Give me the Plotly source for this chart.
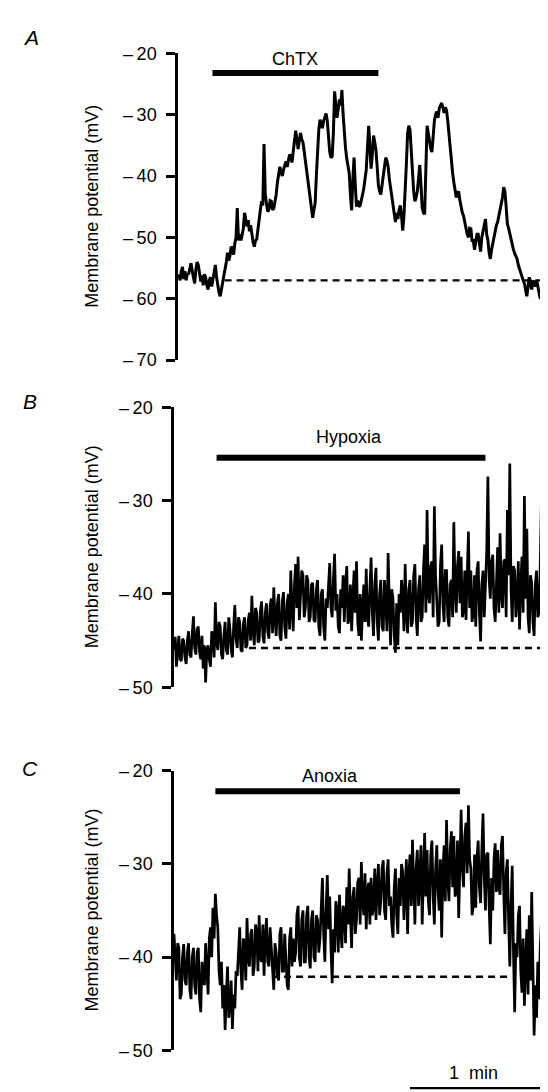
import plotly.graph_objects as go

# ---------------- data ----------------
SAMPLE_S = 0.5            # one reading every half second
A_START_S = 2.0           # first sample of trace A (s)

chtx_mv = [
    -56.0, -57.0, -55.5, -54.8, -56.8, -55.5, -57.0, -55.8, -56.0, -55.0,
    -54.2, -55.5, -56.5, -57.5, -55.2, -54.0, -54.5, -56.0, -57.2, -56.2,
    -57.8, -56.0, -56.5, -57.8, -58.5, -57.0, -56.5, -58.0, -57.0, -55.5,
    -54.5, -56.5, -58.0, -59.0, -59.6, -58.5, -57.8, -56.8, -55.5, -54.0,
    -52.5, -53.8, -53.0, -51.5, -51.8, -52.8, -51.0, -50.0, -45.2, -50.5,
    -49.5, -50.5, -49.6, -48.5, -46.0, -47.5, -48.2, -47.2, -49.0, -48.0,
    -49.8, -50.8, -51.5, -50.5, -50.3, -48.5, -46.5, -45.5, -44.1, -44.8,
    -34.8, -43.0, -44.5, -45.8, -45.5, -44.0, -44.1, -45.5, -45.3, -44.2,
    -43.0, -41.0, -39.5, -38.5, -39.3, -40.0, -39.0, -38.0, -37.6, -38.5,
    -37.6, -36.5, -36.8, -37.8, -36.0, -34.5, -32.6, -34.0, -35.6, -34.2,
    -33.0, -34.0, -34.5, -36.0, -37.5, -39.5, -41.3, -42.5, -43.5, -45.5,
    -46.8, -45.5, -44.5, -40.0, -35.0, -32.5, -30.8, -31.5, -32.2, -31.0,
    -30.5, -29.8, -31.0, -33.5, -36.1, -37.0, -36.8, -33.0, -26.2, -28.5,
    -30.5, -29.0, -27.5, -28.5, -26.0, -30.0, -33.5, -35.5, -37.2, -38.5,
    -39.5, -43.0, -45.6, -40.5, -37.0, -41.5, -45.0, -44.0, -45.0, -44.8,
    -44.1, -43.0, -42.0, -40.5, -39.0, -35.5, -31.8, -35.0, -38.8, -36.5,
    -33.4, -34.5, -35.8, -38.5, -41.5, -42.5, -43.0, -41.5, -39.8, -38.2,
    -37.0, -37.5, -38.5, -40.5, -42.0, -43.5, -45.2, -46.5, -47.5, -46.0,
    -47.0, -45.5, -44.8, -46.5, -48.9, -46.5, -43.0, -38.0, -33.0, -31.8,
    -32.5, -36.5, -40.5, -42.5, -44.1, -43.5, -42.5, -40.0, -38.2, -41.5,
    -45.2, -46.0, -46.2, -39.0, -31.8, -33.0, -34.5, -35.5, -36.1, -33.5,
    -31.0, -30.0, -29.5, -30.5, -29.0, -28.5, -28.1, -28.8, -29.7, -28.8,
    -29.3, -31.0, -33.5, -35.5, -37.5, -39.5, -41.0, -42.0, -43.5, -42.8,
    -42.5, -44.0, -45.2, -46.0, -46.5, -47.8, -48.5, -49.5, -50.0, -48.5,
    -48.6, -50.5, -50.5, -52.0, -50.8, -49.5, -49.5, -51.5, -52.3, -50.0,
    -49.0, -48.0, -47.0, -49.5, -50.4, -52.5, -53.5, -52.0, -51.0, -49.5,
    -48.7, -48.0, -47.5, -46.5, -46.0, -44.5, -43.5, -41.8, -42.5, -45.0,
    -47.8, -48.5, -49.4, -50.5, -51.5, -52.0, -52.6, -53.0, -53.5, -54.5,
    -55.2, -56.0, -56.5, -57.0, -57.5, -58.5, -59.6, -58.0, -56.5, -57.5,
    -58.5, -57.0, -57.5, -58.0, -56.9, -58.0, -59.0, -60.0, -59.6, -57.5,
    -55.0, -57.0, -58.8, -57.0, -55.8, -56.5, -57.5, -56.5, -55.8, -56.8,
    -55.3,
]

hypoxia_mv = [
    -46.0, -44.6, -47.8, -45.5, -44.5, -47.0, -47.2, -44.8, -45.0, -46.8,
    -47.5, -45.0, -44.0, -46.5, -46.8, -44.2, -42.4, -45.8, -46.5, -43.8,
    -43.5, -46.2, -47.0, -44.5, -48.0, -45.5, -49.5, -46.0, -45.5, -47.0,
    -47.8, -44.0, -44.5, -46.8, -40.9, -45.2, -46.0, -43.0, -43.5, -46.5,
    -47.0, -44.5, -43.0, -46.0, -46.5, -42.5, -43.8, -46.0, -46.8, -43.5,
    -41.2, -44.8, -45.8, -42.5, -43.0, -46.0, -46.2, -43.2, -42.5, -45.8,
    -45.5, -42.8, -42.0, -45.0, -40.2, -43.8, -45.5, -41.5, -42.0, -45.2,
    -45.0, -41.8, -40.8, -44.5, -45.3, -42.0, -41.0, -44.0, -44.8, -41.2,
    -40.5, -44.2, -39.3, -42.5, -44.5, -41.0, -40.0, -44.5, -45.0, -40.8,
    -39.8, -43.5, -44.8, -41.0, -40.0, -43.8, -37.5, -41.5, -44.0, -39.0,
    -36.8, -41.5, -36.0, -42.8, -40.5, -37.5, -38.0, -42.5, -41.5, -38.0,
    -38.5, -43.0, -42.5, -39.0, -38.8, -42.8, -43.0, -39.5, -38.5, -43.5,
    -44.5, -40.0, -39.5, -43.5, -45.0, -40.5, -41.5, -38.5, -36.7, -41.5,
    -42.5, -38.5, -35.7, -41.8, -40.0, -43.5, -44.2, -39.5, -41.5, -38.0,
    -43.0, -39.0, -37.0, -43.2, -42.5, -39.0, -44.0, -40.5, -37.5, -42.0,
    -36.5, -43.0, -44.5, -40.0, -45.0, -41.5, -39.0, -43.0, -37.3, -42.5,
    -43.5, -39.5, -36.1, -42.0, -44.5, -39.0, -37.2, -43.0, -45.0, -40.0,
    -38.5, -43.5, -44.0, -38.5, -40.5, -44.0, -35.6, -41.0, -45.5, -39.5,
    -40.5, -44.5, -46.3, -41.0, -45.5, -40.0, -42.0, -38.5, -40.0, -44.0,
    -36.8, -42.0, -44.2, -39.5, -38.5, -43.5, -43.0, -38.0, -36.8, -42.5,
    -44.5, -39.5, -38.0, -43.0, -42.5, -37.5, -34.7, -42.0, -31.0, -40.0,
    -41.0, -37.0, -36.5, -42.5, -30.6, -38.0, -40.5, -43.5, -43.0, -37.0,
    -34.7, -41.0, -43.0, -37.5, -37.5, -42.5, -43.5, -39.0, -38.5, -42.5,
    -32.3, -39.5, -42.0, -37.0, -35.4, -41.0, -36.0, -42.5, -41.8, -37.5,
    -42.8, -38.5, -33.3, -41.5, -37.5, -43.0, -42.0, -38.0, -43.5, -37.5,
    -36.5, -42.0, -45.1, -39.0, -37.5, -42.5, -39.5, -35.5, -27.4, -38.5,
    -40.5, -36.5, -35.8, -41.5, -43.0, -37.5, -35.0, -42.0, -33.5, -40.0,
    -41.5, -36.5, -36.3, -42.5, -31.0, -38.0, -26.0, -39.5, -43.0, -37.0,
    -37.5, -42.5, -40.5, -36.5, -43.8, -39.0, -36.0, -42.0, -29.5, -40.5,
    -33.0, -42.5, -44.2, -38.0, -38.8, -43.0, -44.5, -39.0, -37.5, -42.5,
    -42.0, -37.0, -29.8, -40.0, -41.5, -45.0, -46.5, -40.5, -38.5, -44.0,
    -46.6, -41.0, -39.3, -44.5, -43.8,
]

anoxia_mv = [
    -37.5, -41.0, -42.5, -38.5, -39.0, -44.5, -44.0, -40.0, -38.6, -42.5,
    -43.0, -39.5, -38.5, -43.5, -44.5, -40.0, -39.0, -43.0, -44.0, -39.5,
    -39.0, -44.5, -45.9, -40.5, -41.5, -43.0, -38.5, -42.0, -44.0, -38.0,
    -36.8, -40.0, -34.7, -38.0, -33.2, -35.5, -36.8, -41.5, -43.0, -40.5,
    -45.5, -43.0, -47.8, -44.0, -41.0, -46.5, -45.0, -42.5, -47.7, -44.0,
    -45.5, -41.5, -42.0, -39.5, -36.8, -41.5, -43.5, -38.0, -38.5, -42.5,
    -35.8, -40.0, -41.0, -37.5, -37.0, -42.0, -41.0, -36.5, -37.2, -41.5,
    -35.5, -40.0, -40.5, -36.5, -42.0, -38.0, -35.8, -40.5, -41.0, -36.8,
    -39.0, -42.5, -43.5, -38.5, -39.5, -42.0, -42.5, -37.5, -36.8, -41.5,
    -41.5, -37.5, -40.0, -43.0, -43.5, -38.0, -36.8, -41.0, -38.0, -40.5,
    -39.5, -35.5, -34.5, -40.0, -41.0, -36.0, -35.0, -40.5, -40.5, -35.5,
    -34.5, -40.0, -41.2, -36.0, -35.0, -40.0, -40.5, -35.5, -36.0, -39.5,
    -38.0, -34.0, -31.5, -37.5, -40.5, -35.0, -31.2, -37.0, -33.5, -39.0,
    -42.8, -37.0, -39.5, -34.0, -35.0, -39.5, -33.3, -37.0, -39.0, -34.5,
    -35.0, -38.5, -32.5, -36.5, -30.5, -35.5, -39.0, -33.5, -32.5, -37.5,
    -36.0, -32.0, -31.5, -36.5, -29.8, -34.0, -35.5, -31.0, -37.0, -33.0,
    -32.0, -36.5, -31.5, -35.5, -34.5, -30.5, -36.0, -32.5, -30.0, -35.5,
    -34.0, -30.5, -29.6, -35.0, -36.0, -31.0, -29.5, -34.5, -33.5, -36.5,
    -37.9, -32.5, -30.5, -35.5, -37.5, -31.5, -34.5, -30.0, -30.8, -36.0,
    -33.5, -29.5, -37.5, -31.0, -29.0, -34.5, -27.4, -33.0, -36.5, -30.5,
    -28.5, -34.5, -32.0, -28.0, -36.5, -31.0, -26.7, -33.5, -28.5, -34.0,
    -35.5, -29.0, -27.5, -33.5, -36.5, -30.5, -28.0, -33.0, -35.0, -29.5,
    -37.9, -31.0, -28.0, -34.0, -25.3, -31.5, -34.0, -28.5, -26.5, -32.5,
    -27.0, -33.5, -33.0, -27.5, -35.8, -30.0, -24.2, -30.5, -32.5, -27.0,
    -25.6, -31.0, -23.7, -29.5, -30.5, -35.5, -34.5, -29.0, -34.7, -29.5,
    -27.5, -32.5, -34.2, -28.5, -24.6, -31.5, -35.0, -29.0, -28.8, -34.5,
    -38.6, -31.5, -35.0, -29.5, -27.8, -33.0, -28.5, -32.5, -33.3, -28.0,
    -27.0, -33.0, -37.5, -31.0, -29.5, -36.0, -41.0, -34.5, -30.2, -39.5,
    -45.9, -38.5, -40.0, -35.5, -34.5, -41.5, -43.8, -38.0, -45.2, -40.5,
    -37.0, -44.0, -35.5, -42.5, -33.0, -41.0, -48.4, -43.0, -46.5, -40.5,
    -44.5, -39.0, -36.2, -43.5, -41.0, -45.5, -47.5, -41.5, -44.5, -38.5,
    -36.2, -43.0, -46.0, -40.0, -36.0,
]

panel_letters = ["A", "B", "C"]
treatment_labels = ["ChTX", "Hypoxia", "Anoxia"]
bar_start_s = [15.8, 17.5, 17.0]
bar_end_s = [84.0, 128.0, 117.5]
bar_level_mv = [-23.2, -25.4, -22.2]
label_center_s = [49.7, 72.0, 64.0]
label_level_mv = [-21.0, -23.2, -20.6]
baseline_mv = [-57.0, -45.8, -42.1]
baseline_start_s = [20.8, 30.8, 40.3]
baseline_end_s = [157.0, 157.0, 137.3]
y_ranges = [[-70, -20], [-50, -20], [-50, -20]]
y_ticks = [[-70, -60, -50, -40, -30, -20], [-50, -40, -30, -20], [-50, -40, -30, -20]]
y_title = "Membrane potential (mV)"
scale_bar_s = 60
scale_bar_label = "1\u00a0 min"

# ---------------- layout geometry (pixels) ----------------
W, H = 548, 1092
PX_PER_S = 146 / 60.0
X0_PX = 166.0                       # pixel where t = 0
axis_px = [170, 166, 166]           # y-axis line x-position per panel
top_px = [36.0, 396.7, 766.7]       # pixel of -20 mV
bottom_px = [348.5, 681.7, 1051.7]  # pixel of axis bottom
letter_px = [(23, 20), (22, 391), (22, 764)]
title_x_px = 84
t_end = (W - X0_PX) / PX_PER_S

FONT = "Liberation Sans, Arial, Helvetica, sans-serif"


def py(p):
    return 1 - p / H


def tick_text(v):
    return ("\u2013\u2009" + str(abs(v))) if v < 0 else str(v)


traces_mv = [chtx_mv, hypoxia_mv, anoxia_mv]
starts = [A_START_S, 0.0, 0.0]
widths = [3.0, 2.7, 2.7]

fig = go.Figure()
annotations = []
shapes = []
layout_axes = {}

for i in range(3):
    xa = "x" if i == 0 else f"x{i+1}"
    ya = "y" if i == 0 else f"y{i+1}"
    xkey = "xaxis" if i == 0 else f"xaxis{i+1}"
    ykey = "yaxis" if i == 0 else f"yaxis{i+1}"

    # dashed baseline
    fig.add_trace(go.Scatter(
        x=[baseline_start_s[i], baseline_end_s[i]],
        y=[baseline_mv[i], baseline_mv[i]],
        mode="lines", line=dict(color="black", width=2.4, dash="7px,5px"),
        xaxis=xa, yaxis=ya, hoverinfo="skip"))

    vals = traces_mv[i]
    ts = [starts[i] + k * SAMPLE_S for k in range(len(vals))]
    fig.add_trace(go.Scatter(
        x=ts, y=vals, mode="lines",
        line=dict(color="black", width=widths[i]),
        xaxis=xa, yaxis=ya))

    layout_axes[xkey] = dict(
        domain=[axis_px[i] / W, 1], range=[(axis_px[i] - X0_PX) / PX_PER_S, t_end],
        visible=False, anchor=ya, fixedrange=True)
    layout_axes[ykey] = dict(
        domain=[py(bottom_px[i]), py(top_px[i])], range=y_ranges[i],
        tickvals=y_ticks[i], ticktext=[tick_text(v) for v in y_ticks[i]],
        showline=True, linecolor="black", linewidth=2.5,
        ticks="outside", ticklen=9, tickwidth=2.5, tickcolor="black",
        showgrid=False, zeroline=False, anchor=xa, fixedrange=True,
        tickfont=dict(size=18, family=FONT, color="black"), ticklabelstandoff=6)

    # treatment bar
    shapes.append(dict(type="line", xref=xa, yref=ya,
                       x0=bar_start_s[i], x1=bar_end_s[i],
                       y0=bar_level_mv[i], y1=bar_level_mv[i],
                       line=dict(color="black", width=6)))
    annotations.append(dict(x=label_center_s[i], y=label_level_mv[i],
                            xref=xa, yref=ya, text=treatment_labels[i], showarrow=False,
                            xanchor="center", yanchor="middle",
                            font=dict(size=18, family=FONT, color="black")))
    # panel letter
    annotations.append(dict(x=letter_px[i][0] / W, y=py(letter_px[i][1]), xref="paper", yref="paper",
                            text=f"<i>{panel_letters[i]}</i>", showarrow=False,
                            xanchor="center", yanchor="middle",
                            font=dict(size=21, family=FONT, color="black")))
    # y title
    annotations.append(dict(x=title_x_px / W, y=py((top_px[i] + bottom_px[i]) / 2),
                            xref="paper", yref="paper", text=y_title, textangle=-90,
                            showarrow=False, xanchor="center", yanchor="middle",
                            font=dict(size=18, family=FONT, color="black")))

# time scale bar (panel C axes)
shapes.append(dict(type="line", xref="x3", yref="paper",
                   x0=t_end - scale_bar_s, x1=t_end, y0=py(1090), y1=py(1090),
                   line=dict(color="black", width=2.2)))
annotations.append(dict(x=t_end - scale_bar_s / 2 - 4, y=py(1075), xref="x3", yref="paper",
                        text=scale_bar_label, showarrow=False, xanchor="center", yanchor="middle",
                        font=dict(size=18, family=FONT, color="black")))

fig.update_layout(
    width=W, height=H, margin=dict(l=0, r=0, t=0, b=0),
    paper_bgcolor="white", plot_bgcolor="white", showlegend=False,
    font=dict(family=FONT, size=18, color="black"),
    annotations=annotations, shapes=shapes, **layout_axes)

fig.write_html("out.html")
